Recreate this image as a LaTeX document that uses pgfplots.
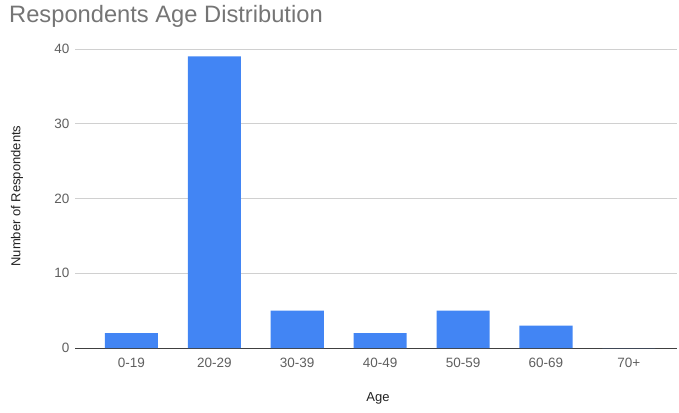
\documentclass[border=0pt]{standalone}
\usepackage{pgfplots}
\pgfplotsset{compat=1.18}
\usepackage{fontspec}
\setmainfont{Liberation Sans}
\definecolor{barblue}{HTML}{4285F4}
\definecolor{titlegray}{HTML}{757575}
\definecolor{tickgray}{HTML}{5F5F5F}
\definecolor{gridgray}{HTML}{D0D0D0}
\definecolor{labeldark}{HTML}{222222}
\begin{document}
\begin{tikzpicture}[x=1bp,y=1bp]
\useasboundingbox (0,0) rectangle (679,412);
\node[anchor=base west, text=titlegray, inner sep=0pt, font=\fontsize{23.7bp}{27bp}\selectfont] at (9,389) {Respondents Age Distribution};
\node[rotate=90, anchor=center, text=labeldark, inner sep=0pt, font=\fontsize{13bp}{15bp}\selectfont] at (17,216) {Number of Respondents};
\node[anchor=center, text=labeldark, inner sep=0pt, font=\fontsize{13bp}{15bp}\selectfont] at (378,14) {Age};
\begin{axis}[
  at={(75bp,64bp)}, anchor=south west,
  scale only axis, width=602bp, height=299bp,
  xmin=-0.68, xmax=6.58, ymin=0, ymax=40,
  ybar, bar width=0.64,
  axis line style={draw=none},
  tick style={draw=none},
  xtick={0,1,2,3,4,5,6},
  xticklabels={0-19,20-29,30-39,40-49,50-59,60-69,70+},
  ytick={10,20,30,40},
  extra y ticks={0},
  extra y tick style={grid=major, major grid style={draw=black!75, line width=1bp}},
  ymajorgrids,
  major grid style={draw=gridgray, line width=0.8bp},
  tick label style={font=\fontsize{13.5bp}{15bp}\selectfont, text=tickgray},
  /pgf/number format/assume math mode=true,
  xticklabel style={yshift=-2bp},
  yticklabel style={xshift=-2bp},
]
\addplot[fill=barblue, draw=none] coordinates {(0,2) (1,39) (2,5) (3,2) (4,5) (5,3) (6,0)};
\end{axis}
\end{tikzpicture}
\end{document}
